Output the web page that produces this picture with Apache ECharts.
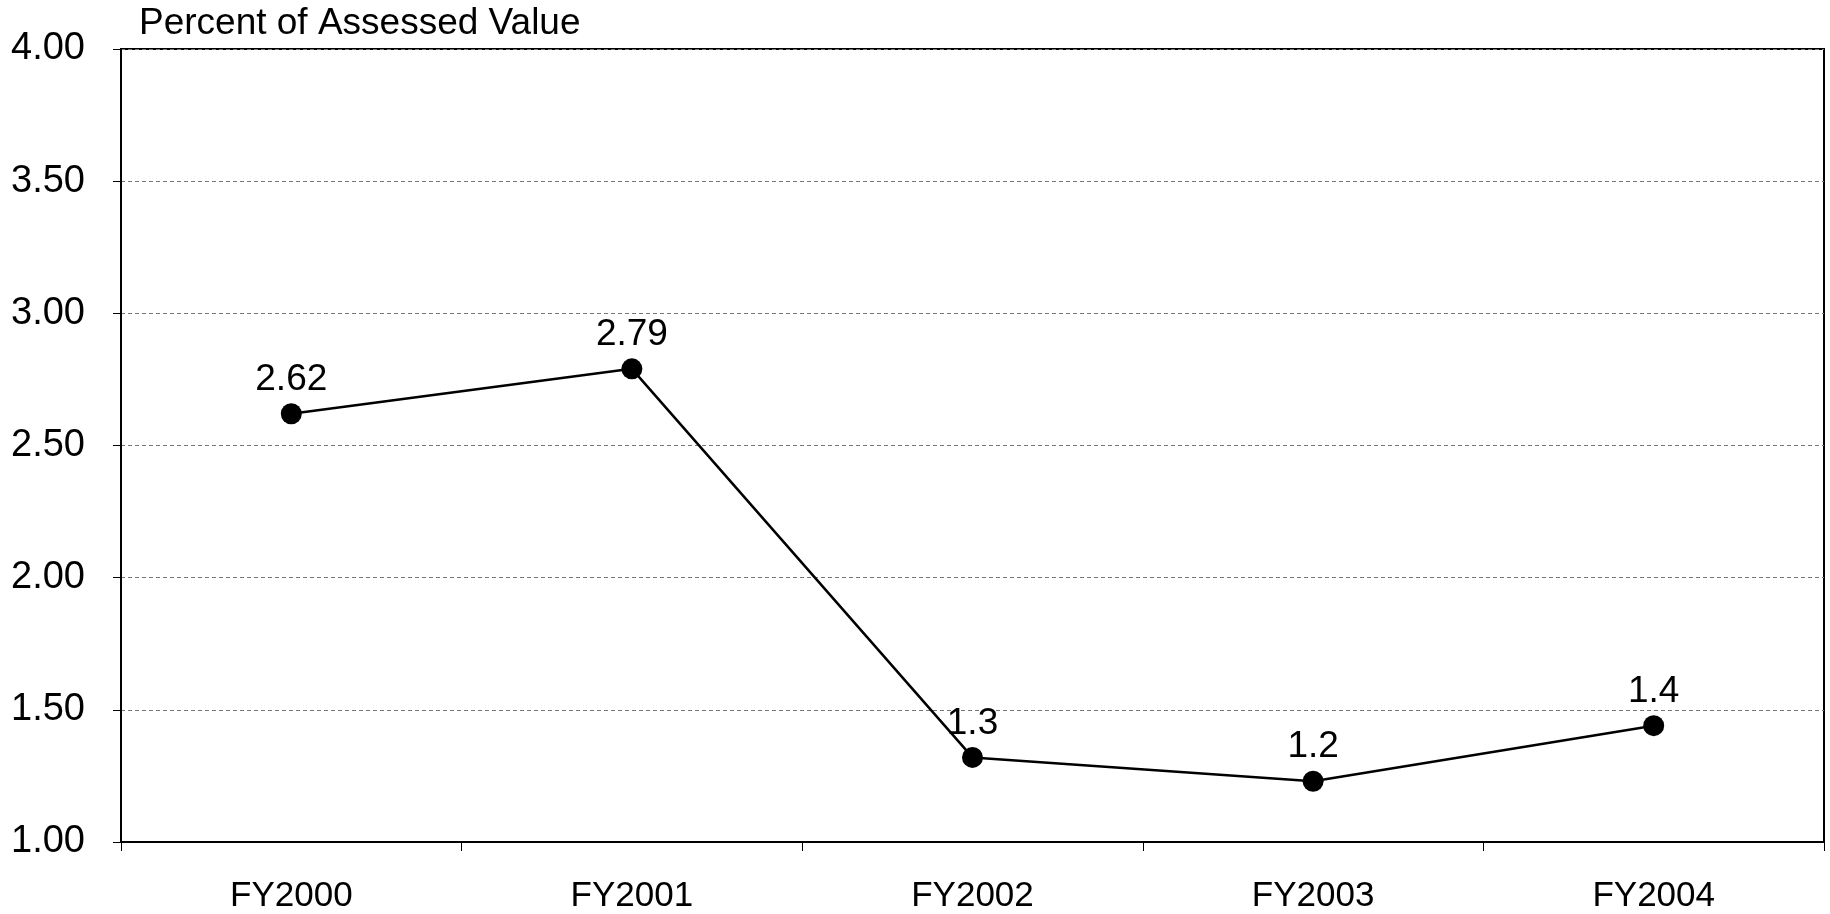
<!DOCTYPE html>
<html>
<head>
<meta charset="utf-8">
<script src="https://cdn.jsdelivr.net/npm/echarts@6/dist/echarts.min.js"></script>
<style>
  html, body { margin: 0; padding: 0; background: #fff; }
  #chart { width: 1830px; height: 914px; }
</style>
</head>
<body>
<div id="chart"></div>
<script>
// fiscal years on the x axis
const years = ['FY2000', 'FY2001', 'FY2002', 'FY2003', 'FY2004'];
// plotted values (percent of assessed value)
const values = [2.62, 2.79, 1.32, 1.23, 1.44];
// labels as printed next to each point
const pointLabels = ['2.62', '2.79', '1.3', '1.2', '1.4'];

const font = 'Liberation Sans, Arial, sans-serif';

let myChart = echarts.init(document.getElementById('chart'));
let option = {
    backgroundColor: '#fff',
    animation: false,
    title: {
        text: 'Percent of Assessed Value',
        left: 134,
        top: 0,
        textStyle: {
            color: '#000',
            fontFamily: font,
            fontWeight: 'normal',
            fontSize: 37
        }
    },
    grid: {
        left: 121,
        right: 6,
        top: 49,
        bottom: 71,
        show: true,
        borderColor: '#000',
        borderWidth: 2
    },
    xAxis: {
        type: 'category',
        data: years,
        boundaryGap: true,
        axisLine: { lineStyle: { color: '#000', width: 2 } },
        axisTick: { show: true, length: 9, lineStyle: { color: '#000', width: 1 } },
        axisLabel: {
            color: '#000',
            fontFamily: font,
            fontSize: 35,
            margin: 37
        },
        splitLine: { show: false }
    },
    yAxis: {
        type: 'value',
        min: 1,
        max: 4,
        interval: 0.5,
        axisLine: { show: true, lineStyle: { color: '#000', width: 2 } },
        axisTick: { show: true, length: 8, lineStyle: { color: '#000', width: 1 } },
        axisLabel: {
            color: '#000',
            fontFamily: font,
            fontSize: 38,
            margin: 36,
            formatter: v => v.toFixed(2)
        },
        splitLine: {
            show: true,
            lineStyle: { color: '#777', width: 1, type: [4, 3] }
        }
    },
    series: [{
        type: 'line',
        data: values,
        symbol: 'circle',
        symbolSize: 21,
        itemStyle: { color: '#000' },
        lineStyle: { color: '#000', width: 2.5 },
        label: {
            show: true,
            position: 'top',
            distance: 5,
            color: '#000',
            fontFamily: font,
            fontSize: 37,
            formatter: p => pointLabels[p.dataIndex]
        }
    }]
};
myChart.setOption(option);
</script>
</body>
</html>
